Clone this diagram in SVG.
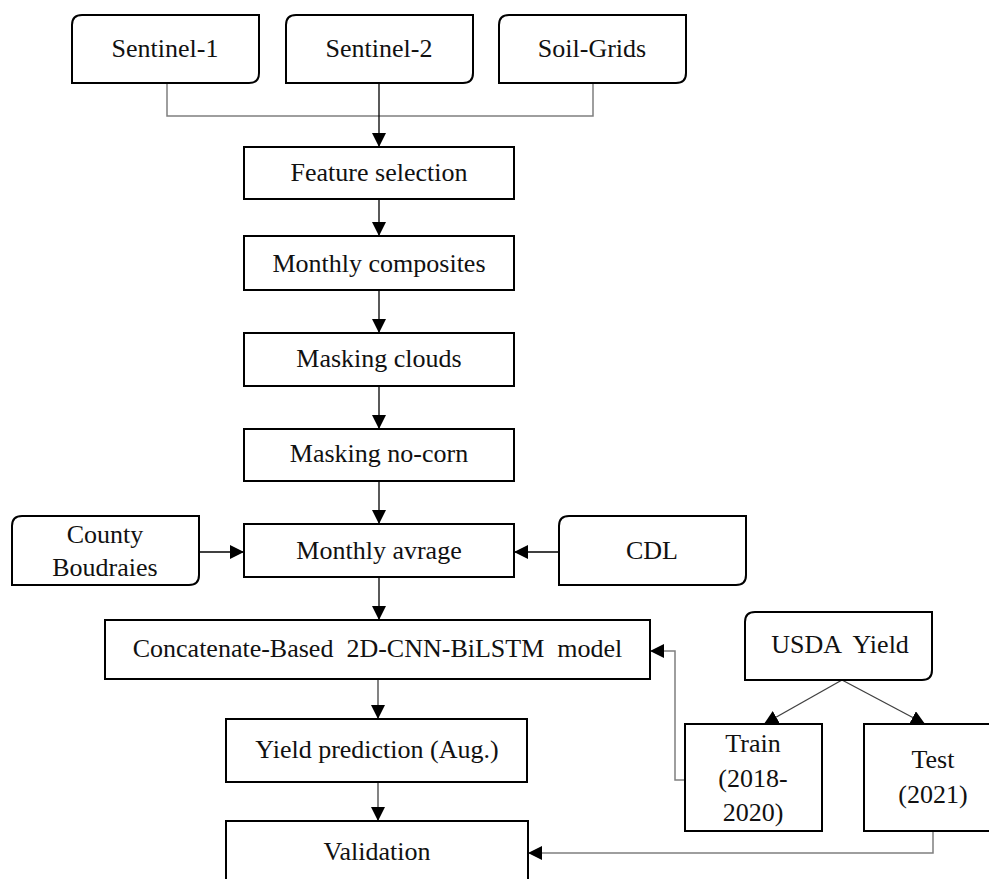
<svg xmlns="http://www.w3.org/2000/svg" width="989" height="879" viewBox="0 0 989 879">
<defs>
<style>
.box{fill:#fff;stroke:#000;stroke-width:2}
.t{font-family:"Liberation Serif","Times New Roman",serif;font-size:26px;fill:#111;text-anchor:middle}
.blk{fill:none;stroke:#000;stroke-width:1.3}
.gry{fill:none;stroke:#7f7f7f;stroke-width:1.5}
.dg{fill:none;stroke:#404040;stroke-width:1.3}
</style>
<marker id="ah" markerUnits="userSpaceOnUse" markerWidth="14" markerHeight="14" viewBox="0 0 14 14" refX="14" refY="7" orient="auto">
<path d="M0,0 L14,7 L0,14 z" fill="#000"/>
</marker>
</defs>
<rect width="989" height="879" fill="#fff"/>
<g id="connectors">
<path class="gry" d="M167,83 V116 H593 V83"/>
<path class="blk" d="M379,83 V147" marker-end="url(#ah)"/>
<path class="blk" d="M379,199 V236" marker-end="url(#ah)"/>
<path class="blk" d="M379,290 V333" marker-end="url(#ah)"/>
<path class="blk" d="M379,386 V429" marker-end="url(#ah)"/>
<path class="blk" d="M379,481 V524" marker-end="url(#ah)"/>
<path class="blk" d="M199,552 H244" marker-end="url(#ah)"/>
<path class="blk" d="M559,552 H514" marker-end="url(#ah)"/>
<path class="blk" d="M379,577 V620" marker-end="url(#ah)"/>
<path class="dg" d="M378,679 V719" marker-end="url(#ah)"/>
<path class="dg" d="M378,782 V821" marker-end="url(#ah)"/>
<path class="dg" d="M842,680 L764,724" marker-end="url(#ah)"/>
<path class="dg" d="M842,680 L925,724" marker-end="url(#ah)"/>
<path class="gry" d="M685,780 H675 V651 H650" marker-end="url(#ah)"/>
<path class="gry" d="M933,831 V853 H528" marker-end="url(#ah)"/>
</g>
<g id="sentinel1">
<path class="box" d="M82,15 H259 V73 Q259,83 249,83 H72 V25 Q72,15 82,15 Z"/>
<text class="t" x="165" y="57">Sentinel-1</text>
</g>
<g id="sentinel2">
<path class="box" d="M296,15 H473 V73 Q473,83 463,83 H286 V25 Q286,15 296,15 Z"/>
<text class="t" x="379" y="57">Sentinel-2</text>
</g>
<g id="soilgrids">
<path class="box" d="M509,15 H686 V73 Q686,83 676,83 H499 V25 Q499,15 509,15 Z"/>
<text class="t" x="592" y="57">Soil-Grids</text>
</g>
<g id="feature">
<rect class="box" x="244" y="147" width="270" height="52"/>
<text class="t" x="379" y="181">Feature selection</text>
</g>
<g id="composites">
<rect class="box" x="244" y="236" width="270" height="54"/>
<text class="t" x="379" y="272">Monthly composites</text>
</g>
<g id="clouds">
<rect class="box" x="244" y="333" width="270" height="53"/>
<text class="t" x="379" y="367">Masking clouds</text>
</g>
<g id="nocorn">
<rect class="box" x="244" y="429" width="270" height="52"/>
<text class="t" x="379" y="462">Masking no-corn</text>
</g>
<g id="average">
<rect class="box" x="244" y="524" width="270" height="53"/>
<text class="t" x="379" y="559">Monthly avrage</text>
</g>
<g id="county">
<path class="box" d="M22,516 H199 V575 Q199,585 189,585 H12 V526 Q12,516 22,516 Z"/>
<text class="t" x="105" y="543">County</text>
<text class="t" x="105" y="576">Boudraies</text>
</g>
<g id="cdl">
<path class="box" d="M569,516 H746 V575 Q746,585 736,585 H559 V526 Q559,516 569,516 Z"/>
<text class="t" x="652" y="559">CDL</text>
</g>
<g id="model">
<rect class="box" x="105" y="620" width="545" height="59"/>
<text class="t" x="377.5" y="657" xml:space="preserve">Concatenate-Based  2D-CNN-BiLSTM  model</text>
</g>
<g id="usda">
<path class="box" d="M755,612 H932 V670 Q932,680 922,680 H745 V622 Q745,612 755,612 Z"/>
<text class="t" x="840" y="653" xml:space="preserve">USDA  Yield</text>
</g>
<g id="train">
<rect class="box" x="685" y="724" width="137" height="107"/>
<text class="t" x="753" y="752">Train</text>
<text class="t" x="753" y="787">(2018-</text>
<text class="t" x="753" y="821">2020)</text>
</g>
<g id="test">
<rect class="box" x="864" y="724" width="140" height="107"/>
<text class="t" x="933" y="768">Test</text>
<text class="t" x="933" y="803">(2021)</text>
</g>
<g id="yield">
<rect class="box" x="226" y="719" width="301" height="63"/>
<text class="t" x="377" y="758">Yield prediction (Aug.)</text>
</g>
<g id="validation">
<rect class="box" x="226" y="821" width="302" height="70"/>
<text class="t" x="377" y="860">Validation</text>
</g>
</svg>
